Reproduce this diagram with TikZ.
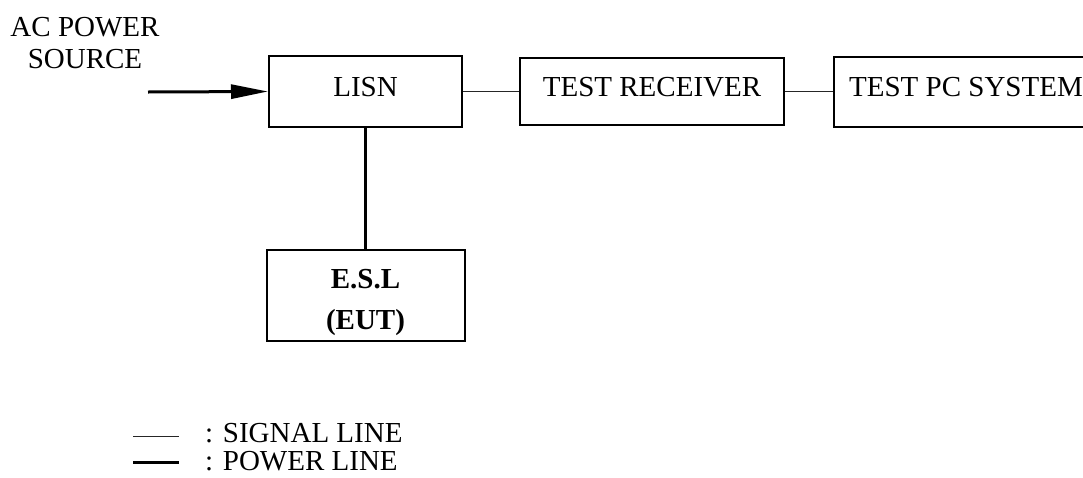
\documentclass[tikz,border=0pt]{standalone}
\usepackage{fontspec}
\setmainfont{Liberation Serif}
\usetikzlibrary{arrows.meta, positioning}
\newcommand{\diafont}{\fontsize{29}{33}\selectfont}
\tikzset{
  unit/.style={rectangle, draw=black, line width=2pt, text centered,
               inner sep=0pt, font=\diafont},
  unitS/.style={unit, text depth=10pt},
  unitB/.style={unit, font=\diafont\bfseries, align=center},
  label/.style={inner sep=0pt, font=\diafont},
  sigline/.style={line width=1pt, draw=black!85},
  pwrline/.style={line width=3pt, draw=black},
  pwrarrow/.style={pwrline, -{Triangle[length=37pt, width=14pt]}},
}

\begin{document}
\begin{tikzpicture}[x=1pt, y=-1pt]
  \useasboundingbox (0,0) rectangle (1083,477);

  \node[unitS, minimum width=193pt, minimum height=71pt] (lisn) at (365.5,91.5) {LISN};
  \node[unitS, minimum width=264pt, minimum height=67pt, right=56pt of lisn] (rx) {TEST RECEIVER};
  \node[unitS, minimum width=264pt, minimum height=70pt, right=48pt of rx] (pc) {TEST PC SYSTEM};
  \node[unitB, minimum width=198pt, minimum height=91pt, below=121pt of lisn,
        font=\fontsize{29}{41}\selectfont\bfseries] (esl) {\rule{0pt}{34pt}E.S.L\\(EUT)};

  \node[label, align=center, font=\fontsize{29}{32}\selectfont] (ac) at (85,43) {AC POWER\\SOURCE};
  \coordinate (acin) at (148,92);

  \draw[pwrarrow] (acin) -- (lisn.west);
  \draw[sigline] (lisn.east) -- (rx.west);
  \draw[sigline, line width=1.3pt] (rx.east) -- (pc.west);
  \draw[pwrline] (lisn.south) -- (esl.north);

  % legend
  \coordinate (sigA) at (133,436);
  \coordinate (sigB) at (179,436);
  \coordinate (pwrA) at (133,462);
  \coordinate (pwrB) at (179,462);
  \draw[sigline] (sigA) -- (sigB);
  \draw[pwrline] (pwrA) -- (pwrB);
  \node[label, anchor=west] (sigtxt) at (205,433) {: SIGNAL LINE};
  \node[label, anchor=west] (pwrtxt) at (205,461) {: POWER LINE};

\end{tikzpicture}
\end{document}
